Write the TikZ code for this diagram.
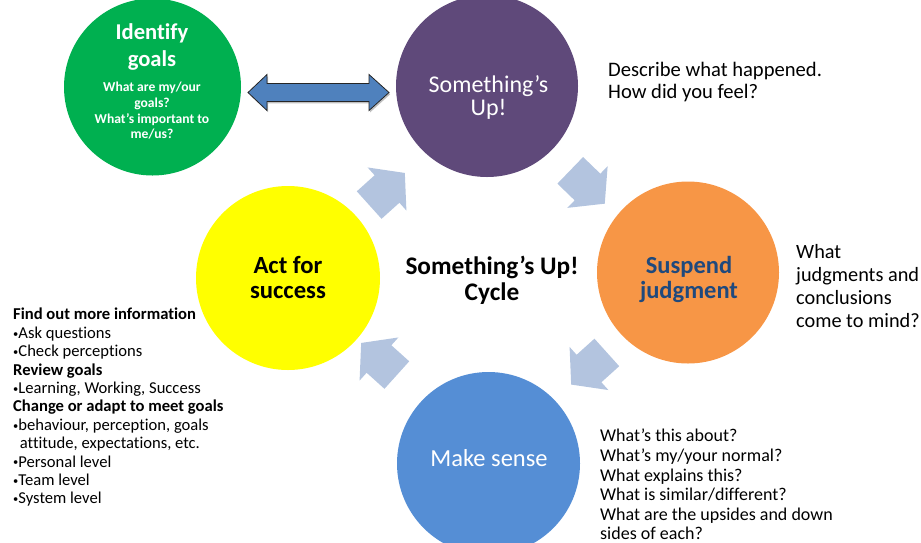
\documentclass[tikz,border=0pt]{standalone}
\usepackage{fontspec}
\setmainfont{Carlito}[Ligatures=CommonOff]
\usetikzlibrary{calc}

\definecolor{goalgreen}{HTML}{00B050}
\definecolor{uppurple}{HTML}{5F497A}
\definecolor{judgeorange}{HTML}{F79646}
\definecolor{senseblue}{HTML}{558ED5}
\definecolor{actyellow}{HTML}{FFFF00}
\definecolor{navytext}{HTML}{1F497D}
\definecolor{linkblue}{HTML}{4F81BD}
\definecolor{stepblue}{HTML}{B3C4DF}

\newcommand\fsz[2]{\fontsize{#1}{#2}\selectfont}
% small list bullet
\newcommand\listdot{{\fontsize{10.5}{10}\selectfont\raisebox{1.2pt}{•}}}

\tikzset{
  stage/.style={circle, inner sep=0pt, minimum size=#1},
  label text/.style={inner sep=0pt, align=center, anchor=north},
  side text/.style={inner sep=0pt, align=left, anchor=north west},
  pics/cyclearrow/.style={code={
    \fill[stepblue] (-24,-18.5) -- (0,-18.5) -- (0,-29) -- (24,0)
      -- (0,29) -- (0,18.5) -- (-24,18.5) -- cycle;
  }},
}

\begin{document}
\begin{tikzpicture}[x=1pt,y=-1pt]
\useasboundingbox (0,0) rectangle (921,542);

% the five stages
\node[stage=177, fill=goalgreen]   (goals)  at (152.5,87)  {};
\node[stage=182, fill=uppurple]    (up)     at (487,86)    {};
\node[stage=182, fill=judgeorange] (judge)  at (688,272.5) {};
\node[stage=183, fill=senseblue]   (sense)  at (488.5,463.5) {};
\node[stage=184, fill=actyellow]   (act)    at (288,278)   {};

% two-way link between goals and the trigger
\coordinate (linkmid) at ($(goals.east)!0.5!(up.west)+(0,6)$);
\begin{scope}[shift={(linkmid)}]
  \fill[black, opacity=0.25, shift={(1.2,1.8)}]
    (-70.5,0) -- (-51.5,-18) -- (-51.5,-9) -- (50.5,-9) -- (50.5,-18)
    -- (70.5,0) -- (50.5,18) -- (50.5,9) -- (-51.5,9) -- (-51.5,18) -- cycle;
  \filldraw[fill=linkblue, draw=black!85, line width=0.8pt, line join=miter]
    (-70.5,0) -- (-51.5,-18) -- (-51.5,-9) -- (50.5,-9) -- (50.5,-18)
    -- (70.5,0) -- (50.5,18) -- (50.5,9) -- (-51.5,9) -- (-51.5,18) -- cycle;
\end{scope}

% arrows of the cycle
\pic[rotate=42]   at (387,189)   {cyclearrow};
\pic[rotate=-44]  at (587.5,187) {cyclearrow};
\pic[rotate=-138] at (589,368.5) {cyclearrow};
\pic[rotate=138]  at (379,359)   {cyclearrow};

% texts inside the circles
\node[label text, text=white, font=\bfseries\fsz{22.6}{27}] (goalstitle) at (152,23)
  {Identify\\goals};
\node[label text, text=white, font=\bfseries\fsz{13.6}{15.7}] (goalsq) at (152,82)
  {What are my/our\\goals?\\What’s important to\\me/us?};
\node[label text, text=white, font=\fsz{24}{23.3}] (uptext) at (488.5,75)
  {Something’s\\Up!};
\node[label text, text=navytext, font=\bfseries\fsz{24.5}{25.5}] (judgetext) at (689,256)
  {Suspend\\judgment};
\node[label text, font=\bfseries\fsz{24.7}{25.5}] (acttext) at (288,256)
  {Act for\\success};
\node[inner sep=0pt, anchor=base, text=white, font=\fsz{24.5}{29}] (sensetext) at (489,466)
  {Make sense};
\node[label text, font=\bfseries\fsz{25.3}{25.5}] (cycletitle) at (492,256)
  {Something’s Up!\\Cycle};

% prompts beside the circles
\node[side text, font=\fsz{20.6}{21.7}] (upnote) at (608,62)
  {Describe what happened.\\How did you feel?};
\node[side text, font=\fsz{20.3}{23}] (judgenote) at (796,244)
  {What\\judgments and\\conclusions\\come to mind?};
\node[side text, font=\fsz{18}{19.6}] (sensenote) at (600,429)
  {What’s this about?\\What’s my/your normal?\\What explains this?\\What is similar/different?\\What are the upsides and down\\sides of each?};
\node[side text, font=\fsz{16.6}{18.4}] (actnote) at (13,308)
  {\textbf{Find out more information}\\
   \listdot Ask questions\\
   \listdot Check perceptions\\
   \textbf{Review goals}\\
   \listdot Learning, Working, Success\\
   \textbf{Change or adapt to meet goals}\\
   \listdot behaviour, perception, goals\\
   \phantom{\listdot}\hspace{1.5pt}attitude, expectations, etc.\\
   \listdot Personal level\\
   \listdot Team level\\
   \listdot System level};
\end{tikzpicture}
\end{document}
